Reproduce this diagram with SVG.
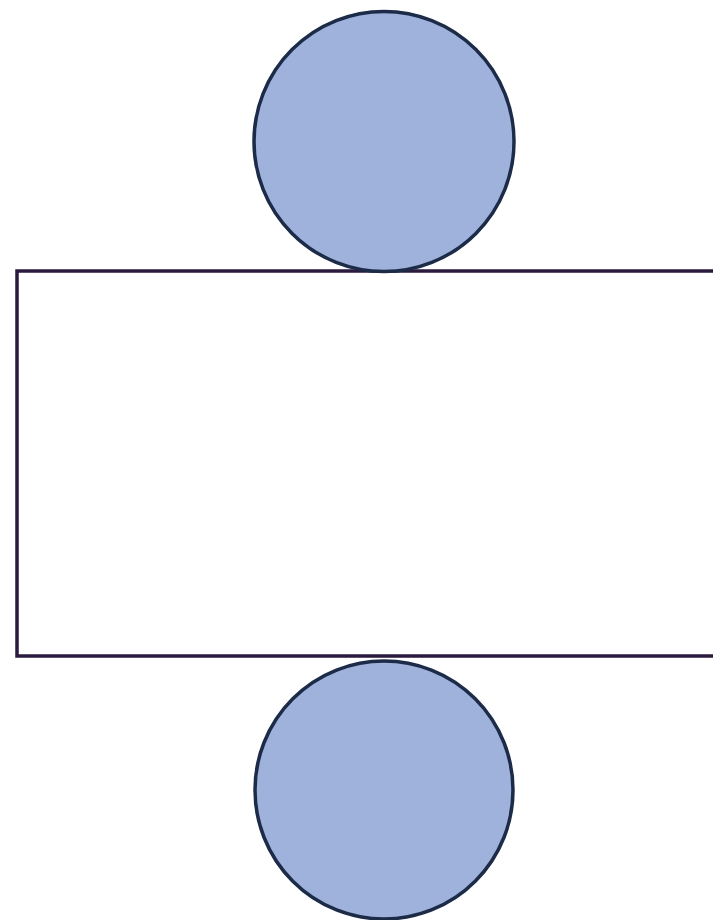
<svg xmlns="http://www.w3.org/2000/svg" width="713" height="920" viewBox="0 0 713 920">
<style>
.face{fill:#9fb2db;stroke:#1c2b48;stroke-width:3.5}
.side{fill:#ffffff;stroke:#2a1a3e;stroke-width:3.5}
</style>
<rect width="713" height="920" fill="#ffffff"/>
<g id="side"><rect class="side" x="17" y="271" width="720" height="385"/></g>
<g id="top-face"><circle class="face" cx="384" cy="141.5" r="130"/></g>
<g id="bottom-face"><circle class="face" cx="384" cy="790" r="129"/></g>
<g id="connectors"></g>
</svg>
